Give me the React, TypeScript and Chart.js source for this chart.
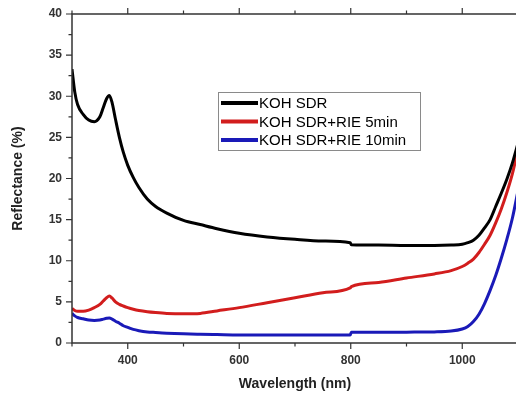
import React, { useEffect, useRef } from "react";
import { Chart, registerables } from "chart.js";

Chart.register(...registerables);

const wavelengths = [300, 305, 310, 320, 330, 340, 350, 356, 362, 367, 372, 378, 385, 392, 400, 410, 420, 435, 450, 470, 500, 530, 560, 600, 650, 700, 750, 799, 801, 850, 900, 950, 980, 1000, 1010, 1020, 1030, 1040, 1050, 1060, 1070, 1080, 1090, 1100];

const kohSdr = [33.3, 30.5, 29.0, 27.8, 27.1, 26.9, 27.5, 28.6, 29.7, 30.1, 29.2, 27.2, 25.0, 23.2, 21.6, 20.1, 18.9, 17.5, 16.6, 15.8, 14.9, 14.4, 13.9, 13.35, 12.9, 12.6, 12.4, 12.2, 11.95, 11.9, 11.85, 11.85, 11.9, 12.0, 12.2, 12.5, 13.1, 14.0, 15.0, 16.6, 18.2, 19.9, 21.9, 24.3];

const rie5 = [4.2, 3.95, 3.85, 3.85, 4.0, 4.3, 4.7, 5.1, 5.5, 5.7, 5.45, 5.0, 4.7, 4.5, 4.3, 4.1, 3.95, 3.8, 3.7, 3.6, 3.55, 3.6, 3.9, 4.3, 4.9, 5.5, 6.1, 6.7, 6.85, 7.35, 7.9, 8.4, 8.8, 9.3, 9.7, 10.2, 11.0, 12.0, 13.1, 14.6, 16.3, 18.3, 20.6, 23.5];

const rie10 = [3.6, 3.3, 3.1, 2.95, 2.8, 2.75, 2.8, 2.9, 3.0, 3.05, 2.9, 2.65, 2.4, 2.1, 1.9, 1.65, 1.5, 1.35, 1.28, 1.2, 1.12, 1.07, 1.03, 0.98, 0.97, 0.96, 0.96, 0.96, 1.3, 1.3, 1.32, 1.35, 1.45, 1.7, 2.0, 2.6, 3.5, 4.8, 6.4, 8.2, 10.3, 12.6, 15.2, 18.5];

const seriesLabels = ["KOH SDR", "KOH SDR+RIE 5min", "KOH SDR+RIE 10min"];
const seriesColors = ["#000000", "#d21d1d", "#1a1ab8"];

const xMajorTicks = [400, 600, 800, 1000];
const yMajorStep = 5;

const axisColor = "#333333";

const framePlugin = {
  id: "frame",
  afterDraw(chart: any) {
    const ctx = chart.ctx;
    const { left, right, top, bottom } = chart.chartArea;
    const xs = chart.scales.x;
    const ys = chart.scales.y;
    ctx.save();
    ctx.strokeStyle = axisColor;
    ctx.lineWidth = 1.5;
    ctx.beginPath();
    ctx.rect(left, top, right - left, bottom - top);
    ctx.stroke();
    ctx.lineWidth = 1.2;
    ctx.beginPath();
    xs.ticks.forEach((t: any) => {
      const px = xs.getPixelForValue(t.value);
      const major = xMajorTicks.includes(t.value);
      const len = major ? 6 : 3.5;
      ctx.moveTo(px, bottom);
      ctx.lineTo(px, bottom + len);
      ctx.moveTo(px, top);
      ctx.lineTo(px, top - len);
    });
    ys.ticks.forEach((t: any) => {
      const py = ys.getPixelForValue(t.value);
      const major = t.value % yMajorStep === 0;
      const len = major ? 6 : 3.5;
      ctx.moveTo(left, py);
      ctx.lineTo(left - len, py);
      ctx.moveTo(right, py);
      ctx.lineTo(right + len, py);
    });
    ctx.stroke();

    // legend box
    const bx = 218, by = 92, bw = 202, bh = 58;
    ctx.strokeStyle = "#8a8a8a";
    ctx.lineWidth = 1;
    ctx.strokeRect(bx + 0.5, by + 0.5, bw, bh);
    ctx.font = "15px 'Liberation Sans', Arial, sans-serif";
    ctx.textBaseline = "middle";
    ctx.textAlign = "left";
    chart.data.datasets.forEach((ds: any, i: number) => {
      const cy = by + 11 + i * 18.5;
      ctx.strokeStyle = ds.borderColor;
      ctx.lineWidth = 4;
      ctx.beginPath();
      ctx.moveTo(bx + 3, cy);
      ctx.lineTo(bx + 40, cy);
      ctx.stroke();
      ctx.fillStyle = "#000";
      ctx.fillText(ds.label, bx + 41, cy + 1);
    });
    ctx.restore();
  },
};

export default function App() {
  const ref = useRef<HTMLCanvasElement | null>(null);
  useEffect(() => {
    if (!ref.current) return;
    const values = [kohSdr, rie5, rie10];
    const chart = new Chart(ref.current, {
      type: "line",
      data: {
        labels: wavelengths,
        datasets: values.map((v, i) => ({
          label: seriesLabels[i],
          data: v.map((y, j) => ({ x: wavelengths[j], y })),
          borderColor: seriesColors[i],
          backgroundColor: seriesColors[i],
          borderWidth: 3,
          pointRadius: 0,
          cubicInterpolationMode: "monotone" as const,
          fill: false,
        })),
      },
      options: {
        animation: false,
        responsive: false,
        devicePixelRatio: 1,
        layout: { padding: { left: 4, top: 14, right: 2, bottom: 0 } },
        plugins: { legend: { display: false }, tooltip: { enabled: false } },
        scales: {
          x: {
            type: "linear",
            min: 300,
            max: 1100,
            grid: { display: false, drawTicks: false },
            border: { display: false },
            ticks: {
              stepSize: 100,
              padding: 10,
              maxRotation: 0,
              autoSkip: false,
              color: axisColor,
              font: { family: "'Liberation Sans', Arial, sans-serif", size: 12, weight: "bold" },
              callback: (v: any) => (xMajorTicks.includes(Number(v)) ? String(v) : ""),
            },
            title: {
              display: true,
              text: "Wavelength (nm)",
              color: "#222",
              font: { family: "'Liberation Sans', Arial, sans-serif", size: 14, weight: "bold" },
              padding: { top: 0, bottom: 3 },
            },
            afterFit: (s: any) => {
              s.height = 53;
              s.paddingLeft = 0;
              s.paddingRight = 0;
            },
          },
          y: {
            min: 0,
            max: 40,
            grid: { display: false, drawTicks: false },
            border: { display: false },
            ticks: {
              stepSize: 2.5,
              padding: 10,
              autoSkip: false,
              color: axisColor,
              font: { family: "'Liberation Sans', Arial, sans-serif", size: 12, weight: "bold" },
              callback: (v: any) => (Number(v) % yMajorStep === 0 ? String(v) : ""),
            },
            title: {
              display: true,
              text: "Reflectance (%)",
              color: "#222",
              font: { family: "'Liberation Sans', Arial, sans-serif", size: 14, weight: "bold" },
              padding: { top: 6, bottom: 0 },
            },
            afterFit: (s: any) => {
              s.width = 68;
              s.paddingTop = 0;
              s.paddingBottom = 0;
            },
          },
        },
      },
      plugins: [framePlugin],
    });
    return () => chart.destroy();
  }, []);
  return (
    <div style={{ position: "fixed", left: 0, top: 0, width: 516, height: 396, overflow: "hidden", background: "#fff" }}>
      <canvas ref={ref} width={520} height={396} style={{ display: "block", width: 520, height: 396 }} />
    </div>
  );
}
